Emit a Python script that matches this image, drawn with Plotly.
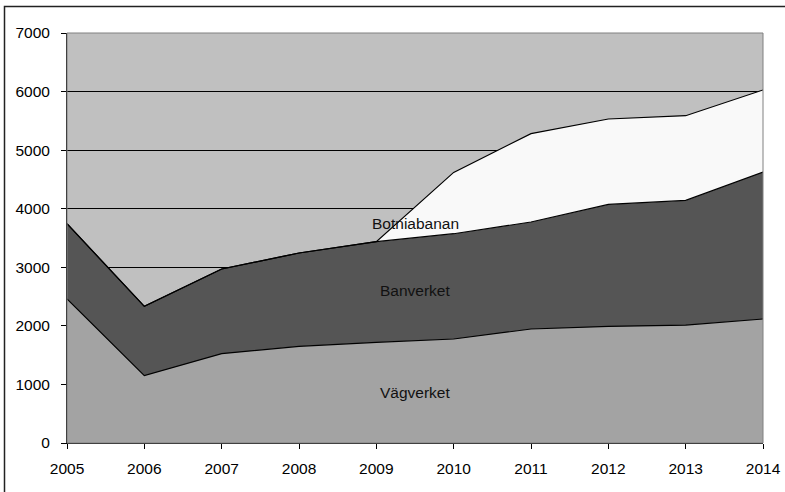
import plotly.graph_objects as go

years = [2005, 2006, 2007, 2008, 2009, 2010, 2011, 2012, 2013, 2014]
vagverket = [2460, 1150, 1525, 1650, 1718, 1776, 1946, 1991, 2014, 2117]
banverket = [1284, 1183, 1446, 1594, 1719, 1797, 1827, 2083, 2128, 2510]
botniabanan = [0, 0, 0, 0, 0, 1047, 1508, 1458, 1446, 1400]

y_ticks = [0, 1000, 2000, 3000, 4000, 5000, 6000, 7000]

FONT = "Liberation Sans, Arial, sans-serif"
FS = 15.5

fig = go.Figure()
series = [
    ("Vägverket", vagverket, "#A3A3A3"),
    ("Banverket", banverket, "#555555"),
    ("Botniabanan", botniabanan, "#F9F9F9"),
]
for name, vals, col in series:
    fig.add_trace(go.Scatter(
        x=years, y=vals, name=name, stackgroup="one", mode="lines",
        line=dict(color="black", width=1.2), fillcolor=col, hoverinfo="skip",
    ))

# area labels
fig.add_annotation(x=2009.5, y=3750, text="Botniabanan", showarrow=False,
                   font=dict(family=FONT, size=FS, color="#111111"))
fig.add_annotation(x=2009.5, y=2610, text="Banverket", showarrow=False,
                   font=dict(family=FONT, size=FS, color="#111111"))
fig.add_annotation(x=2009.5, y=860, text="Vägverket", showarrow=False,
                   font=dict(family=FONT, size=FS, color="#111111"))

W, H = 785, 492
ml, mr, mt, mb = 67, 22, 33, 49
pw, ph = W - ml - mr, H - mt - mb

def px2paper_x(px):
    return (px - ml) / pw

def px2paper_y(py):
    return 1 - (py - mt) / ph

# plot-area border (gray)
fig.add_shape(type="rect", xref="paper", yref="paper", x0=0, x1=1, y0=0, y1=1,
              line=dict(color="#808080", width=1), layer="above")
# outer chart border
fig.add_shape(type="rect", xref="paper", yref="paper",
              x0=px2paper_x(4.5), x1=px2paper_x(800), y0=px2paper_y(500), y1=px2paper_y(6.5),
              line=dict(color="#222222", width=1.5), fillcolor="rgba(0,0,0,0)")

fig.update_layout(
    width=W, height=H, autosize=False,
    margin=dict(l=ml, r=mr, t=mt, b=mb, pad=0, autoexpand=False),
    paper_bgcolor="white", plot_bgcolor="#C0C0C0",
    showlegend=False,
    font=dict(family=FONT, size=FS, color="black"),
)
fig.update_xaxes(
    range=[2005, 2014], tickmode="array", tickvals=years,
    ticktext=[str(y) for y in years], automargin=False,
    showgrid=False, zeroline=False, showline=True, linecolor="black", linewidth=1,
    ticks="outside", ticklen=5, tickcolor="black", tickwidth=1,
    tickfont=dict(family=FONT, size=FS, color="black"), ticklabelstandoff=6,
)
fig.update_yaxes(
    range=[0, 7000], tickmode="array", tickvals=y_ticks,
    ticktext=[str(v) for v in y_ticks], automargin=False,
    showgrid=True, gridcolor="black", gridwidth=1, zeroline=False,
    showline=True, linecolor="black", linewidth=1,
    ticks="outside", ticklen=5, tickcolor="black", tickwidth=1,
    tickfont=dict(family=FONT, size=FS, color="black"), ticklabelstandoff=8,
)

fig.write_html(
    "out.html",
    config={"displayModeBar": False, "staticPlot": True},
    post_script="document.body.style.margin='0';document.body.style.padding='0';document.body.style.overflow='hidden';",
)
